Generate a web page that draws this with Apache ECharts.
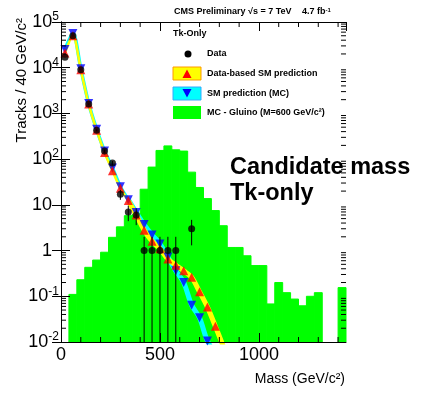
<!DOCTYPE html>
<html><head><meta charset="utf-8">
<script src="https://cdn.jsdelivr.net/npm/echarts@6/dist/echarts.min.js"></script>
<style>html,body{margin:0;padding:0;background:#fff}#c{width:425px;height:393px}</style>
</head><body><div id="c"></div>
<script>
// ---- data ----
const massCenters = [20,60,100,140,180,220,260,300,340,380,420,460,500,540,580,620,660,700,740,780];
const dataCounts  = [17000,50000,9000,1600,430,150,82,17,7,6,1,1,1,1,1,null,3,null,null,null];
const dataErrors  = [130,224,95,40,21,12,9,4.1,2.6,2.4,1,1,1,1,1,null,1.7,null,null,null];
const smDataBased = [21000,50000,9000,1600,430,140,56,23,12.5,6,2.8,1.6,1.1,0.65,0.48,0.36,0.26,0.125,0.058,0.022];
const smMC        = [25000,56000,9500,1650,450,150,64,25,13,6.8,3.7,2.2,1.4,0.72,0.36,0.2,0.064,0.034,0.0105,null];
const dataBasedBandTail = [[820, 0.008]];
const mcBandTail        = [[800, 0.004]];
const gluinoBinLow = [40,80,120,160,200,240,280,320,360,400,440,480,520,560,600,640,680,720,760,800,840,880,920,960,1000,1040,1080,1120,1160,1200,1240,1280,1320,1360,1400];
const gluinoBinWidth = 40;
const gluinoCounts = [0.11,0.23,0.43,0.62,0.92,1.95,3.3,5.8,6.2,22,67,155,195,160,150,52,24,13.7,7.5,3.5,1.17,1.17,0.77,0.47,0.47,0.068,0.2,0.12,0.087,0.062,0.1,0.12,0,0,0.155];
const xMin = 0, xMax = 1440, xMajor = 500, xMinorStep = 100;
const yMin = 0.01, yMax = 100000;
const bandSplitIndex = 8; // band drawn thin above this point, wide below

// ---- build ----
const FONT = 'Liberation Sans';
const pairs = (arr) => massCenters.map((m,i)=>[m, arr[i]]).filter(p=>p[1]!=null);
const dataPts = pairs(dataCounts);
const errPts = massCenters.map((m,i)=>[m, dataCounts[i], dataErrors[i]]).filter(p=>p[1]!=null);
const redPts = pairs(smDataBased);
const bluePts = pairs(smMC);
const histData = gluinoBinLow.map((lo,i)=>[lo, lo+gluinoBinWidth, gluinoCounts[i]]);

const chart = echarts.init(document.getElementById('c'), null, {renderer:'canvas'});

function yLabel(v){
  const e = Math.round(Math.log10(v));
  if (e === 0) return '{p|1}';
  if (e === 1) return '{p|10}';
  return '{b|10}{s|' + e + '}';
}
const axisCommon = {
  axisLine:{show:true, lineStyle:{color:'#000', width:1}},
  axisTick:{show:true, inside:true, length:9, lineStyle:{color:'#000', width:1}},
  splitLine:{show:false}, z:10
};
function band(pts, tail, color, wThin, wWide, z){
  return [
    {type:'line', data:pts.slice(0, bandSplitIndex+1), showSymbol:false, symbol:'none', smooth:0.3,
      lineStyle:{color:color, width:wThin}, z:z, silent:true},
    {type:'line', data:pts.slice(bandSplitIndex).concat(tail), showSymbol:false, symbol:'none', smooth:0.3,
      lineStyle:{color:color, width:wWide}, z:z, silent:true}
  ];
}

const option = {
  animation:false,
  backgroundColor:'#fff',
  grid:{left:61, right:79, top:22, bottom:51},
  xAxis:[
    Object.assign({type:'value', min:xMin, max:xMax, interval:xMajor, position:'bottom',
      axisLabel:{showMaxLabel:false, fontSize:18, color:'#000', fontFamily:FONT, margin:4, formatter:(v)=>String(v)}}, axisCommon),
    Object.assign({type:'value', min:xMin, max:xMax, interval:xMajor, position:'top',
      axisLabel:{show:false}}, axisCommon)
  ],
  yAxis:[
    Object.assign({type:'log', logBase:10, min:yMin, max:yMax, splitNumber:7, position:'left',
      axisLabel:{formatter:yLabel, margin:2, color:'#000',
        rich:{
          b:{fontSize:18, lineHeight:22, fontFamily:FONT, color:'#000'},
          s:{fontSize:12, lineHeight:12, fontFamily:FONT, color:'#000', verticalAlign:'top'},
          p:{fontSize:18, lineHeight:22, fontFamily:FONT, color:'#000', padding:[0,7,0,0]}
        }}}, axisCommon),
    Object.assign({type:'log', logBase:10, min:yMin, max:yMax, splitNumber:7, position:'right',
      axisLabel:{show:false}}, axisCommon)
  ],
  series:[
    {type:'custom', name:'MC - Gluino', coordinateSystem:'cartesian2d', xAxisIndex:0, yAxisIndex:0, z:1,
      encode:{x:[0,1], y:2}, data:histData,
      renderItem:function(params, api){
        const x0=api.value(0), x1=api.value(1), v=api.value(2);
        if (!(v>0)) return null;
        const a=api.coord([x0,v]), b=api.coord([x1,yMin]);
        return {type:'rect', shape:{x:a[0], y:a[1], width:b[0]-a[0], height:b[1]-a[1]},
          style:{fill:'#00ff00', stroke:'#00ff00', lineWidth:1}};
      }}
  ].concat(band(bluePts, mcBandTail, '#00ffff', 3.5, 5, 2))
   .concat(band(redPts, dataBasedBandTail, '#ffff00', 2.5, 5, 3))
   .concat([
    {type:'scatter', name:'SM prediction (MC)', data:bluePts, symbol:'triangle', symbolRotate:180, symbolSize:9,
      itemStyle:{color:'#0000ff'}, z:4},
    {type:'scatter', name:'Data-based SM prediction', data:redPts, symbol:'triangle', symbolSize:9,
      itemStyle:{color:'#ff0000'}, z:5},
    {type:'custom', name:'errors', coordinateSystem:'cartesian2d', encode:{x:0, y:1}, data:errPts, z:6,
      renderItem:function(params, api){
        const x=api.value(0), v=api.value(1), e=api.value(2);
        const lo = (v-e) > yMin ? (v-e) : yMin;
        const p1=api.coord([x, v+e]), p2=api.coord([x, lo]);
        return {type:'line', shape:{x1:p1[0], y1:p1[1], x2:p2[0], y2:p2[1]}, style:{stroke:'#000', lineWidth:1}};
      }},
    {type:'scatter', name:'Data', data:dataPts, symbol:'circle', symbolSize:7, itemStyle:{color:'#000'}, z:7},
    {type:'custom', name:'minor ticks', coordinateSystem:'cartesian2d', encode:{x:0, y:1}, data:[[xMin, 1]], z:11, silent:true,
      renderItem:function(params, api){
        const ch=[]; const st={stroke:'#000', lineWidth:1};
        for (let x=xMin+xMinorStep; x<xMax; x+=xMinorStep){
          if (x % xMajor === 0) continue;
          const b=api.coord([x,yMin]), t=api.coord([x,yMax]);
          ch.push({type:'line', shape:{x1:b[0], y1:b[1], x2:b[0], y2:b[1]-5}, style:st});
          ch.push({type:'line', shape:{x1:t[0], y1:t[1], x2:t[0], y2:t[1]+5}, style:st});
        }
        for (let d=Math.round(Math.log10(yMin)); d<Math.round(Math.log10(yMax)); d++){
          for (let m=2; m<=9; m++){
            const v=m*Math.pow(10,d);
            const l=api.coord([xMin,v]), r=api.coord([xMax,v]);
            ch.push({type:'line', shape:{x1:l[0], y1:l[1], x2:l[0]+5, y2:l[1]}, style:st});
            ch.push({type:'line', shape:{x1:r[0], y1:r[1], x2:r[0]-5, y2:r[1]}, style:st});
          }
        }
        return {type:'group', children:ch};
      }}
  ]),
  graphic:[
    {type:'text', x:174, y:12, style:{text:'CMS Preliminary', font:'bold 9px '+FONT, fill:'#000', textVerticalAlign:'middle', verticalAlign:'middle'}},
    {type:'text', x:248, y:12, style:{text:'\u221As = 7 TeV', font:'bold 9px '+FONT, fill:'#000', textVerticalAlign:'middle', verticalAlign:'middle'}},
    {type:'text', x:302, y:12, style:{text:'4.7 fb{s|-1}', font:'bold 9px '+FONT, fill:'#000', textVerticalAlign:'middle', verticalAlign:'middle',
      rich:{s:{font:'bold 6px '+FONT, fill:'#000', verticalAlign:'top'}}}},
    {type:'text', x:22, y:18, rotation:Math.PI/2, style:{text:'Tracks / 40 GeV/c\u00B2', font:'15px '+FONT, fill:'#000',
      textAlign:'right', align:'right', textVerticalAlign:'middle', verticalAlign:'middle'}},
    {type:'text', x:345, y:379, style:{text:'Mass (GeV/c\u00B2)', font:'14px '+FONT, fill:'#000',
      textAlign:'right', align:'right', textVerticalAlign:'middle', verticalAlign:'middle'}},
    {type:'text', x:230, y:155, z:20, style:{text:'Candidate mass\nTk-only', font:'bold 23.5px '+FONT, lineHeight:26, fill:'#000',
      textVerticalAlign:'top', verticalAlign:'top'}},
    // legend
    {type:'text', x:173, y:34, z:20, style:{text:'Tk-Only', font:'bold 9px '+FONT, fill:'#000', textVerticalAlign:'middle', verticalAlign:'middle'}},
    {type:'circle', z:20, shape:{cx:188, cy:54, r:3.5}, style:{fill:'#000'}},
    {type:'text', x:207, y:54, z:20, style:{text:'Data', font:'bold 9px '+FONT, fill:'#000', textVerticalAlign:'middle', verticalAlign:'middle'}},
    {type:'rect', z:20, shape:{x:173, y:67, width:28, height:13}, style:{fill:'#ffff00', stroke:'#ff9900', lineWidth:1}},
    {type:'polygon', z:21, shape:{points:[[187,69.5],[191.5,78],[182.5,78]]}, style:{fill:'#ff0000'}},
    {type:'text', x:207, y:73.5, z:20, style:{text:'Data-based SM prediction', font:'bold 9px '+FONT, fill:'#000', textVerticalAlign:'middle', verticalAlign:'middle'}},
    {type:'rect', z:20, shape:{x:173, y:87, width:28, height:13}, style:{fill:'#00ffff', stroke:'#33aaff', lineWidth:1}},
    {type:'polygon', z:21, shape:{points:[[182.5,89],[191.5,89],[187,97.5]]}, style:{fill:'#0000ff'}},
    {type:'text', x:207, y:93.5, z:20, style:{text:'SM prediction (MC)', font:'bold 9px '+FONT, fill:'#000', textVerticalAlign:'middle', verticalAlign:'middle'}},
    {type:'rect', z:20, shape:{x:173, y:106, width:28, height:13}, style:{fill:'#00ff00'}},
    {type:'text', x:207, y:112.5, z:20, style:{text:'MC - Gluino (M=600 GeV/c\u00B2)', font:'bold 9px '+FONT, fill:'#000', textVerticalAlign:'middle', verticalAlign:'middle'}}
  ]
};
chart.setOption(option);
</script></body></html>
